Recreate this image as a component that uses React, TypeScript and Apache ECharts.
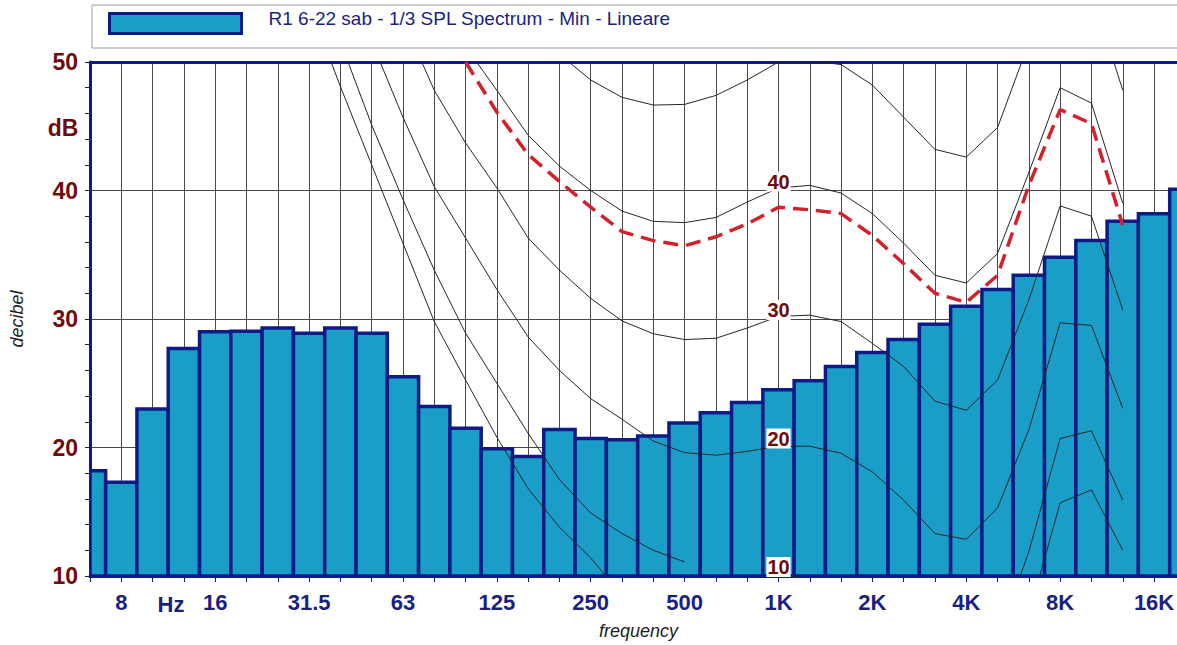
import React, { useEffect, useRef } from 'react';
import * as echarts from 'echarts';

// 1/3-octave band centres (index 0 = 6.3 Hz)
const bands = ['6.3', '8', '10', '12.5', '16', '20', '25', '31.5', '40', '50', '63', '80', '100', '125', '160', '200', '250', '315', '400', '500', '630', '800', '1K', '1.25K', '1.6K', '2K', '2.5K', '3.15K', '4K', '5K', '6.3K', '8K', '10K', '12.5K', '16K', '20K'];

// tick labels shown under the axis
const xTickLabels = ['', '8', '', '', '16', '', '', '31.5', '', '', '63', '', '', '125', '', '', '250', '', '', '500', '', '', '1K', '', '', '2K', '', '', '4K', '', '', '8K', '', '', '16K', ''];

// measured spectrum (dB), minimum
const splMin = [18.2, 17.3, 23.0, 27.7, 29.0, 29.05, 29.3, 28.9, 29.3, 28.9, 25.5, 23.2, 21.5, 19.9, 19.3, 21.4, 20.7, 20.6, 20.9, 21.9, 22.7, 23.5, 24.5, 25.2, 26.3, 27.4, 28.4, 29.6, 31.0, 32.3, 33.4, 34.8, 36.1, 37.6, 38.2, 40.1];

const N = null;
// equal-loudness contours
const threshold = [N, N, N, N, N, N, N, 54.5, 48.1, 42.0, 35.9, 29.8, 25.25, 20.8, 16.8, 13.8, 11.4, 8.5, N, N, N, N, N, N, N, N, N, N, N, N, 7.0, 15.7, 16.7, 12.0, N, N];
const phon10 = [N, N, N, N, N, N, N, N, 51.6, 45.1, 39.3, 33.8, 28.9, 25.0, 21.1, 17.5, 14.9, 13.3, 12.0, 11.1, N, N, N, N, N, N, N, N, N, 5.0, 11.9, 20.7, 21.3, 15.9, N, N];
const phon20 = [N, N, N, N, N, N, N, N, N, 51.6, 45.7, 40.3, 36.3, 32.3, 28.6, 26.0, 23.8, 22.2, 20.5, 19.6, 19.4, 19.7, 20.1, 20.1, 19.55, 18.1, 15.9, 13.3, 12.85, 15.3, 21.4, 29.7, 29.5, 23.05, N, N];
const phon30 = [N, N, N, N, N, N, N, N, N, N, 53.3, 47.8, 43.7, 40.2, 36.3, 33.8, 31.6, 29.85, 28.85, 28.4, 28.5, 29.3, 30.2, 30.3, 29.8, 28.1, 26.3, 23.6, 22.9, 25.25, 31.5, 38.8, 38.0, 30.7, N, N];
const phon40 = [N, N, N, N, N, N, N, N, N, N, N, N, 51.2, 47.8, 44.3, 41.9, 40.0, 38.4, 37.6, 37.5, 37.9, 39.1, 40.2, 40.4, 39.8, 38.2, 35.9, 33.4, 32.8, 35.1, 41.4, 48.0, 46.8, 39.0, N, N];
const phon50 = [N, N, N, N, N, N, N, N, N, N, N, N, N, N, 52.6, 50.6, 48.6, 47.25, 46.65, 46.7, 47.4, 48.6, 50.0, 50.1, 49.8, 48.2, 45.7, 43.2, 42.6, 44.9, 51.5, 57.5, 55.5, 47.8, N, N];
// red dashed contour
const spectrumContour = [N, N, N, N, N, N, N, N, N, N, N, N, 50.0, 46.1, 42.8, 40.7, 38.7, 36.8, 36.1, 35.7, 36.4, 37.4, 38.7, 38.5, 38.2, 36.5, 34.3, 32.0, 31.3, 33.4, 40.4, 46.3, 45.2, 37.3, N, N];

const contourLevels = [10, 20, 30, 40];
const labelBandIndex = 22; // 1 kHz

const seriesName = 'R1 6-22 sab - 1/3 SPL Spectrum - Min - Lineare';
const FONT = '"Liberation Sans", Arial, Helvetica, sans-serif';
const NAVY = '#0e1a86';
const BAR_FILL = '#1a9ec8';
const DARK_RED = '#6e0c0c';
const LABEL_NAVY = '#1a1f80';

const toPairs = (arr: (number | null)[]) => arr.map((v, i) => [i, v === null ? '-' : v]);

function curve(name: string, arr: (number | null)[]) {
  return {
    type: 'line',
    name,
    data: toPairs(arr),
    xAxisIndex: 0,
    yAxisIndex: 0,
    symbol: 'none',
    showSymbol: false,
    connectNulls: false,
    clip: true,
    z: 3,
    lineStyle: { color: '#262626', width: 1 },
    silent: true,
  };
}

export default function App() {
  const ref = useRef<HTMLDivElement>(null);
  useEffect(() => {
    const chart = echarts.init(ref.current!, null, { renderer: 'svg' });
    const option: any = {
      animation: false,
      backgroundColor: '#ffffff',
      textStyle: { fontFamily: FONT },
      grid: { left: 90, top: 62, width: 1111, height: 514, containLabel: false, outerBoundsMode: 'none' },
      legend: {
        show: true,
        left: 108,
        top: 9,
        padding: 0,
        itemWidth: 132,
        itemHeight: 20,
        selectedMode: false,
        data: [{ name: seriesName, icon: 'rect', itemStyle: { color: BAR_FILL, borderColor: NAVY, borderWidth: 3 } }],
        formatter: '{t|{name}}',
        textStyle: {
          fontSize: 19,
          color: LABEL_NAVY,
          fontFamily: FONT,
          padding: [0, 0, 0, 22],
          rich: { t: { fontSize: 19, color: LABEL_NAVY, fontFamily: FONT, padding: [0, 0, 10, 0] } },
        },
      },
      xAxis: [
        {
          type: 'value',
          position: 'bottom',
          min: 0,
          max: 35.5,
          interval: 1,
          name: 'frequency',
          nameLocation: 'middle',
          nameGap: 46,
          nameTextStyle: { fontStyle: 'italic', fontSize: 18, color: '#222', fontFamily: FONT, padding: [0, 14, 0, 0] },
          axisLine: { show: true, onZero: false, lineStyle: { color: NAVY, width: 3 } },
          axisTick: { show: true, inside: false, length: 6, lineStyle: { color: NAVY, width: 1 } },
          axisLabel: {
            margin: 15,
            color: LABEL_NAVY,
            fontSize: 22,
            fontWeight: 'bold',
            fontFamily: FONT,
            formatter: (v: number) => (Number.isInteger(v) && xTickLabels[v] ? xTickLabels[v] : ''),
          },
          splitLine: { show: true, lineStyle: { color: '#4a4a4a', width: 1 } },
        },
        {
          type: 'value',
          position: 'top',
          min: 0,
          max: 35.5,
          interval: 1,
          axisLine: { show: true, onZero: false, lineStyle: { color: NAVY, width: 3 } },
          axisTick: { show: false },
          axisLabel: { show: false },
          splitLine: { show: false },
        },
      ],
      yAxis: [
        {
          type: 'value',
          position: 'left',
          min: 10,
          max: 50,
          interval: 2,
          name: 'decibel',
          nameLocation: 'middle',
          nameGap: 64,
          nameRotate: 90,
          nameTextStyle: { fontStyle: 'italic', fontSize: 18, color: '#222', fontFamily: FONT },
          axisLine: { show: true, onZero: false, lineStyle: { color: NAVY, width: 3 } },
          axisTick: { show: true, inside: false, length: 5, lineStyle: { color: '#222', width: 1 } },
          axisLabel: {
            margin: 12,
            color: DARK_RED,
            fontSize: 23,
            fontWeight: 'bold',
            fontFamily: FONT,
            formatter: (v: number) => (v % 10 === 0 ? String(v) : ''),
          },
          splitLine: { show: false },
        },
        {
          type: 'value',
          position: 'left',
          min: 10,
          max: 50,
          interval: 10,
          axisLine: { show: false },
          axisTick: { show: false },
          axisLabel: { show: false },
          splitLine: { show: true, lineStyle: { color: '#4a4a4a', width: 1 } },
        },
      ],
      graphic: [
        { type: 'rect', z: -1, shape: { x: 92, y: 5, width: 1200, height: 43 }, style: { fill: 'none', stroke: '#9a9a9a', lineWidth: 1 } },
        { type: 'text', x: 63, y: 128, style: { text: 'dB', fill: DARK_RED, font: `bold 23px ${FONT}`, align: 'center', verticalAlign: 'middle', textAlign: 'center', textVerticalAlign: 'middle' } },
        { type: 'text', x: 171, y: 604, style: { text: 'Hz', fill: LABEL_NAVY, font: `bold 22px ${FONT}`, align: 'center', verticalAlign: 'middle', textAlign: 'center', textVerticalAlign: 'middle' } },
      ],
      series: [
        {
          type: 'custom',
          name: seriesName,
          xAxisIndex: 0,
          yAxisIndex: 0,
          z: 2,
          clip: true,
          itemStyle: { color: BAR_FILL },
          data: splMin.map((v, i) => [i, v]),
          encode: { x: 0, y: 1 },
          renderItem: (params: any, api: any) => {
            const i = api.value(0);
            const v = api.value(1);
            const p0 = api.coord([i - 0.5, v]);
            const p1 = api.coord([i + 0.5, 10]);
            const cs = params.coordSys;
            const shape = echarts.graphic.clipRectByRect(
              { x: p0[0], y: p0[1], width: p1[0] - p0[0], height: p1[1] - p0[1] },
              { x: cs.x, y: cs.y, width: cs.width, height: cs.height }
            );
            if (!shape) return null;
            return { type: 'rect', shape, style: { fill: BAR_FILL, stroke: NAVY, lineWidth: 3.5 } };
          },
        },
        curve('threshold', threshold),
        curve('10 phon', phon10),
        curve('20 phon', phon20),
        curve('30 phon', phon30),
        curve('40 phon', phon40),
        curve('50 phon', phon50),
        {
          type: 'line',
          name: 'contour',
          data: toPairs(spectrumContour),
          symbol: 'none',
          showSymbol: false,
          connectNulls: false,
          clip: true,
          z: 4,
          silent: true,
          lineStyle: { color: '#d4202a', width: 3.5, type: [15, 8] },
        },
        {
          type: 'scatter',
          name: 'levels',
          data: contourLevels.map((l) => [labelBandIndex, l]),
          symbolSize: 1,
          itemStyle: { color: 'rgba(255,255,255,0)', opacity: 1 },
          z: 6,
          silent: true,
          label: {
            show: true,
            position: 'inside',
            offset: [0, -9],
            formatter: (p: any) => String(p.value[1]),
            color: DARK_RED,
            opacity: 1,
            textBorderWidth: 0,
            fontSize: 20,
            fontWeight: 'bold',
            fontFamily: FONT,
            backgroundColor: '#ffffff',
            padding: [0, 1, 0, 1],
          },
        },
      ],
    };
    chart.setOption(option);
    return () => chart.dispose();
  }, []);
  return <div ref={ref} style={{ position: 'fixed', left: 0, top: 0, width: 1177, height: 645, background: '#fff' }} />;
}
